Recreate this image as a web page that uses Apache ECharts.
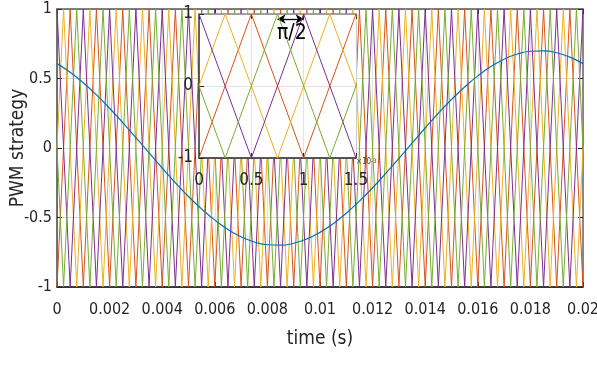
<!DOCTYPE html>
<html>
<head>
<meta charset="utf-8">
<script src="https://cdn.jsdelivr.net/npm/echarts@6/dist/echarts.min.js"></script>
<style>
  html, body { margin: 0; padding: 0; background: #fff; }
  #chart { width: 597px; height: 365px; }
</style>
</head>
<body>
<div id="chart"></div>
<script>
// time in ms (axis labels show seconds)
var timesA = [0,0.5,1,1.5,2,2.5,3,3.5,4,4.5,5,5.5,6,6.5,7,7.5,8,8.5,9,9.5,10,
              10.5,11,11.5,12,12.5,13,13.5,14,14.5,15,15.5,16,16.5,17,17.5,18,18.5,19,19.5,20];
var timesB = [0,0.25,0.75,1.25,1.75,2.25,2.75,3.25,3.75,4.25,4.75,5.25,5.75,6.25,6.75,7.25,7.75,
              8.25,8.75,9.25,9.75,10.25,10.75,11.25,11.75,12.25,12.75,13.25,13.75,14.25,14.75,
              15.25,15.75,16.25,16.75,17.25,17.75,18.25,18.75,19.25,19.75,20];

// carrier vertices
var purpleVals = [1,-1,1,-1,1,-1,1,-1,1,-1,1,-1,1,-1,1,-1,1,-1,1,-1,1,-1,1,-1,1,-1,1,-1,1,-1,1,-1,1,-1,1,-1,1,-1,1,-1,1];
var orangeVals = [-1,1,-1,1,-1,1,-1,1,-1,1,-1,1,-1,1,-1,1,-1,1,-1,1,-1,1,-1,1,-1,1,-1,1,-1,1,-1,1,-1,1,-1,1,-1,1,-1,1,-1];
var yellowVals = [0,1,-1,1,-1,1,-1,1,-1,1,-1,1,-1,1,-1,1,-1,1,-1,1,-1,1,-1,1,-1,1,-1,1,-1,1,-1,1,-1,1,-1,1,-1,1,-1,1,-1,0];
var greenVals  = [0,-1,1,-1,1,-1,1,-1,1,-1,1,-1,1,-1,1,-1,1,-1,1,-1,1,-1,1,-1,1,-1,1,-1,1,-1,1,-1,1,-1,1,-1,1,-1,1,-1,1,0];

// reference sine (every 0.5 ms)
var sineVals = [0.607,0.545,0.469,0.382,0.286,0.183,0.075,-0.035,-0.144,-0.250,-0.349,-0.439,-0.519,
                -0.586,-0.639,-0.676,-0.696,-0.699,-0.685,-0.654,-0.607,-0.545,-0.469,-0.382,-0.286,
                -0.183,-0.075,0.035,0.144,0.250,0.349,0.439,0.519,0.586,0.639,0.676,0.696,0.699,
                0.685,0.654,0.607];

var xTickLabels = ['0','0.002','0.004','0.006','0.008','0.01','0.012','0.014','0.016','0.018','0.02'];
var insetXTicks = ['0','0.5','1','1.5'];

var FONT = '"Liberation Sans Narrow", "DejaVu Sans Condensed", "Liberation Sans", sans-serif';
var TXT = '#262626';

function pairs(t, v) {
  return t.map(function (x, i) { return [x, v[i]]; });
}

var carriers = [
  { name: 'c1', t: timesA, v: orangeVals, color: '#D95319' },
  { name: 'c2', t: timesB, v: yellowVals, color: '#EDB120' },
  { name: 'c3', t: timesA, v: purpleVals, color: '#7E2F8E' },
  { name: 'c4', t: timesB, v: greenVals,  color: '#77AC30' }
];

var series = [];
carriers.forEach(function (c) {
  series.push({
    type: 'line', xAxisIndex: 0, yAxisIndex: 0, data: pairs(c.t, c.v),
    showSymbol: false, lineStyle: { color: c.color, width: 1 }, z: 2
  });
});
series.push({
  type: 'line', xAxisIndex: 0, yAxisIndex: 0, data: pairs(timesA, sineVals),
  smooth: true, showSymbol: false, lineStyle: { color: '#0072BD', width: 1.2 }, z: 2.5
});
carriers.forEach(function (c, i) {
  var s = {
    type: 'line', xAxisIndex: 2, yAxisIndex: 2, data: pairs(c.t, c.v),
    showSymbol: false, lineStyle: { color: c.color, width: 1 }, z: 5
  };
  if (i === 3) {
    s.markLine = {
      silent: true, symbol: ['arrow', 'arrow'], symbolSize: [7, 8],
      lineStyle: { color: '#000', width: 1.3, type: 'solid' },
      label: { show: false },
      data: [[{ coord: [0.75, 0.93] }, { coord: [1, 0.93] }]]
    };
  }
  series.push(s);
});

function tick() { return { show: true, inside: true, length: 5, lineStyle: { color: TXT } }; }

var option = {
  animation: false,
  backgroundColor: '#fff',
  grid: [
    { left: 57, right: 14, top: 9, bottom: 78, outerBoundsMode: 'none' },
    { left: 199, right: 241, top: 14, bottom: 207, outerBoundsMode: 'none',
      show: true, backgroundColor: '#fff', borderWidth: 0, z: 3 }
  ],
  xAxis: [
    {
      type: 'value', gridIndex: 0, min: 0, max: 20, interval: 2,
      name: 'time (s)', nameLocation: 'middle', nameGap: 43, nameMoveOverlap: false,
      nameTextStyle: { fontFamily: FONT, fontSize: 19, color: TXT },
      axisLine: { onZero: false, lineStyle: { color: '#000', width: 1.5 } },
      axisTick: tick(),
      axisLabel: {
        margin: 15, fontFamily: FONT, fontSize: 16, color: TXT,
        formatter: function (v) { return xTickLabels[Math.round(v / 2)]; }
      },
      splitLine: { show: true, lineStyle: { color: '#e3e3e3' } }
    },
    {
      type: 'value', gridIndex: 0, position: 'top', min: 0, max: 20, interval: 2,
      axisLine: { onZero: false, lineStyle: { color: '#555', width: 1.5 } },
      axisTick: tick(), axisLabel: { show: false }, splitLine: { show: false }
    },
    {
      type: 'value', gridIndex: 1, min: 0, max: 1.5, interval: 0.5, z: 4,
      axisLine: { onZero: false, lineStyle: { color: '#222', width: 1.5 } },
      axisTick: tick(),
      axisLabel: {
        margin: 14, fontFamily: FONT, fontSize: 17, color: TXT,
        formatter: function (v) { return insetXTicks[Math.round(v * 2)]; }
      },
      splitLine: { show: true, lineStyle: { color: '#e3e3e3' } }
    },
    {
      type: 'value', gridIndex: 1, position: 'top', min: 0, max: 1.5, interval: 0.5, z: 4,
      axisLine: { onZero: false, lineStyle: { color: '#888', width: 1.5 } },
      axisTick: tick(), axisLabel: { show: false }, splitLine: { show: false }
    }
  ],
  yAxis: [
    {
      type: 'value', gridIndex: 0, min: -1, max: 1, interval: 0.5,
      name: 'PWM strategy', nameLocation: 'middle', nameGap: 29, nameMoveOverlap: false,
      nameTextStyle: { fontFamily: FONT, fontSize: 19, color: TXT },
      axisLine: { show: true, onZero: false, lineStyle: { color: '#444', width: 1.5 } },
      axisTick: tick(),
      axisLabel: { margin: 5, fontFamily: FONT, fontSize: 16, color: TXT },
      splitLine: { show: true, lineStyle: { color: '#d6d6d6' } }
    },
    {
      type: 'value', gridIndex: 0, position: 'right', min: -1, max: 1, interval: 0.5,
      axisLine: { show: true, onZero: false, lineStyle: { color: '#666', width: 1.5 } },
      axisTick: tick(), axisLabel: { show: false }, splitLine: { show: false }
    },
    {
      type: 'value', gridIndex: 1, min: -1, max: 1, interval: 1, z: 4,
      axisLine: { show: true, onZero: false, lineStyle: { color: '#333', width: 1.5 } },
      axisTick: tick(),
      axisLabel: { margin: 6, fontFamily: FONT, fontSize: 17, color: TXT },
      splitLine: { show: true, lineStyle: { color: '#e3e3e3' } }
    },
    {
      type: 'value', gridIndex: 1, position: 'right', min: -1, max: 1, interval: 1, z: 4,
      axisLine: { show: true, onZero: false, lineStyle: { color: '#ccc', width: 1 } },
      axisTick: { show: false }, axisLabel: { show: false }, splitLine: { show: false }
    }
  ],
  graphic: [
    {
      type: 'text', left: 277, top: 23, z: 20,
      style: { text: 'π/2', font: '21px ' + FONT, fill: '#000' }
    },
    {
      type: 'text', left: 356, top: 158, z: 20,
      style: {
        text: '×10{s|-3}', font: '8px ' + FONT, fill: '#444',
        rich: { s: { fontSize: 6, fontFamily: FONT, fill: '#444', verticalAlign: 'top' } }
      }
    }
  ],
  series: series
};

var chart = echarts.init(document.getElementById('chart'));
chart.setOption(option);
</script>
</body>
</html>
